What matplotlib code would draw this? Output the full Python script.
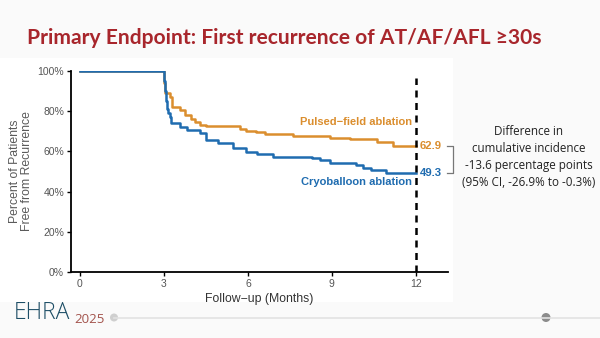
import matplotlib.pyplot as plt
from matplotlib.patches import Rectangle, Circle
from matplotlib.lines import Line2D

# Kaplan-Meier estimates (month, % free from recurrence)
pfa_months = [0, 3.0, 3.04, 3.2, 3.3, 3.57, 3.75, 3.95, 4.1, 4.3, 4.52, 5.71, 5.95,
              6.3, 6.6, 7.62, 8.93, 9.64, 10.6, 11.19, 12]
pfa_free = [100, 94, 89, 87.2, 82.2, 80.6, 78, 76.3, 74.6, 73.3, 72.5, 71.3, 70.3,
            69.5, 68.7, 67.7, 66.8, 66.0, 64.8, 62.9, 62.9]

cryo_months = [0, 3.0, 3.03, 3.06, 3.1, 3.15, 3.2, 3.27, 3.57, 3.81, 4.29, 4.52, 4.94,
               5.48, 5.95, 6.31, 6.9, 8.3, 8.57, 8.93, 9.88, 10.1, 10.4, 10.95, 12]
cryo_free = [100, 95, 90, 85, 81, 79, 77, 74, 72.3, 70.6, 69, 65.7, 64,
             61.5, 59.9, 58.5, 57.4, 56.5, 55.7, 54, 53.2, 51.6, 50.5, 49.3, 49.3]

pfa_final = 62.9
cryo_final = 49.3
xticks = [0, 3, 6, 9, 12]
yticks = [0, 20, 40, 60, 80, 100]

orange = "#DB8E2E"
blue = "#1F6CB0"
grey = "#555555"

fig = plt.figure(figsize=(6, 3.38), dpi=100, facecolor="#fafafa")
fig.patches.append(Rectangle((0, 338 - 302), 453, 302 - 58, transform=None,
                             facecolor="white", edgecolor="none", zorder=-5))

fig.text(27 / 600, 1 - 38 / 338, "Primary Endpoint: First recurrence of AT/AF/AFL \u226530s",
         fontsize=15.1, fontweight="bold", color="#A8262C", family="Lato",
         va="center", ha="left")

ax = fig.add_axes([71 / 600, 1 - 272 / 338, 377 / 600, 201 / 338])
ax.set_facecolor("none")

ax.step(pfa_months, pfa_free, where="post", color=orange, lw=1.8)
ax.step(cryo_months, cryo_free, where="post", color=blue, lw=1.8)
ax.plot([12, 12], [0, 96.5], color="black", lw=1.8, ls=(0, (2.8, 2.2)))

ax.set_xlim(-0.32, 13.15)
ax.set_ylim(0, 100)
ax.set_xticks(xticks)
ax.set_yticks(yticks)
ax.set_yticklabels([f"{v}%" for v in yticks])
for s in ["top", "right"]:
    ax.spines[s].set_visible(False)
for s in ["left", "bottom"]:
    ax.spines[s].set_linewidth(1.3)
ax.tick_params(length=3, width=1, colors="black", labelcolor=grey, labelsize=7.5, pad=2)
for lab in ax.get_xticklabels() + ax.get_yticklabels():
    lab.set_family("Liberation Sans")

ax.set_xlabel("Follow\u2212up (Months)", fontsize=8.8, color="#333333",
              family="Liberation Sans", labelpad=3)
ax.set_ylabel("Percent of Patients\nFree from Recurrence", fontsize=8.8, color="#5a5a5a",
              family="Liberation Sans", labelpad=3, linespacing=1.05)

ax.text(11.86, 74.6, "Pulsed\u2212field ablation", color=orange, fontsize=8,
        fontweight="bold", ha="right", va="center", family="Liberation Sans")
ax.text(11.86, 44.8, "Cryoballoon ablation", color=blue, fontsize=8,
        fontweight="bold", ha="right", va="center", family="Liberation Sans")
ax.text(12.14, pfa_final, f"{pfa_final}", color=orange, fontsize=8.2,
        fontweight="bold", ha="left", va="center", family="Liberation Sans")
ax.text(12.14, cryo_final, f"{cryo_final}", color=blue, fontsize=8.2,
        fontweight="bold", ha="left", va="center", family="Liberation Sans")

# bracket joining the two final estimates
bx0, bx1 = 13.1, 13.32
ax.plot([bx0, bx1, bx1, bx0], [pfa_final, pfa_final, cryo_final, cryo_final],
        color="#777777", lw=0.9, clip_on=False)

fig.text(529 / 600, 1 - 157 / 338,
         "Difference in\ncumulative incidence\n-13.6 percentage points\n(95% CI, -26.9% to -0.3%)",
         ha="center", va="center", fontsize=8.4, color="#222222", family="Open Sans",
         linespacing=1.4)

# footer with congress logo
fig.text(14 / 600, 1 - 313 / 338, "EHRA", fontsize=16.5, color="#1D4E66",
         family="Open Sans", fontweight="light", va="center", ha="left")
fig.text(74 / 600, 1 - 319.5 / 338, "2025", fontsize=9.5, color="#A3534C",
         family="Open Sans", va="center", ha="left")
fig.lines.append(Line2D([114, 600], [338 - 317.5, 338 - 317.5], transform=None,
                        color="#e2e2e2", lw=1.2))
fig.patches.append(Circle((114, 338 - 317.5), 4, transform=None,
                          facecolor="#cfcfcf", edgecolor="none"))
fig.patches.append(Circle((546, 338 - 317.5), 4.5, transform=None,
                          facecolor="#8c8c8c", edgecolor="none"))

fig.savefig("out.png", dpi=100, facecolor=fig.get_facecolor())
